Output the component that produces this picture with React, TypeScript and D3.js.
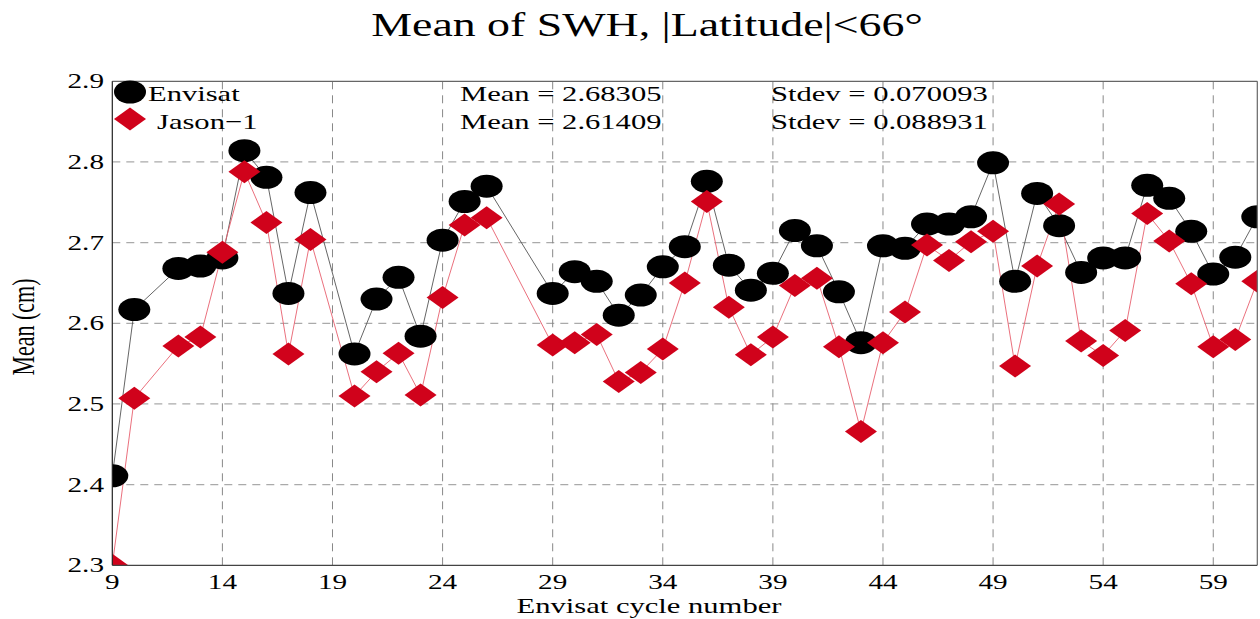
import React from "react";
import * as d3 from "d3";

const envCycles = [9,10,12,13,14,15,16,17,18,20,21,22,23,24,25,26,29,30,31,32,33,34,35,36,37,38,39,40,41,42,43,44,45,46,47,48,49,50,51,52,53,54,55,56,57,58,59,60,61];
const envisat = [2.411,2.617,2.668,2.671,2.681,2.814,2.781,2.637,2.762,2.562,2.630,2.657,2.584,2.703,2.751,2.770,2.637,2.664,2.652,2.610,2.635,2.670,2.695,2.776,2.672,2.641,2.662,2.715,2.696,2.639,2.576,2.696,2.693,2.723,2.723,2.732,2.799,2.652,2.761,2.721,2.663,2.681,2.681,2.771,2.755,2.714,2.661,2.682,2.732];
const jason = [2.300,2.507,2.572,2.583,2.688,2.788,2.725,2.562,2.704,2.510,2.540,2.563,2.511,2.632,2.722,2.731,2.573,2.576,2.586,2.528,2.539,2.568,2.650,2.751,2.620,2.561,2.583,2.647,2.656,2.571,2.466,2.576,2.614,2.697,2.678,2.701,2.714,2.547,2.671,2.748,2.578,2.560,2.591,2.736,2.702,2.649,2.571,2.580,2.652];
const xTicks = [9,14,19,24,29,34,39,44,49,54,59];
const yTicks = [2.3,2.4,2.5,2.6,2.7,2.8,2.9];
const statsText = [
  ["Mean = 2.68305", "Stdev = 0.070093"],
  ["Mean = 2.61409", "Stdev = 0.088931"],
];

const W = 1260, H = 619;
const L = 112.3, R = 1257.3, T = 81.3, B = 565.3;
const FONT = "Liberation Serif, DejaVu Serif, Times New Roman, serif";
const SX = 1.39;

function T2({ x, y, size, anchor = "start", sx = SX, children }: any) {
  // horizontally stretched serif text like the reference
  return (
    <text transform={`translate(${x},${y}) scale(${sx},1)`} textAnchor={anchor}
      style={{ fontFamily: FONT, fontSize: size }} fill="#000">{children}</text>
  );
}

export default function App() {
  const x = d3.scaleLinear().domain([9, 61]).range([L, R]);
  const y = d3.scaleLinear().domain([2.3, 2.9]).range([B, T]);
  const line = d3.line<[number, number]>().x(d => x(d[0])).y(d => y(d[1]));
  const envPts: [number, number][] = envCycles.map((c, i) => [c, envisat[i]]);
  const jasPts: [number, number][] = envCycles.map((c, i) => [c, jason[i]]);
  const diamond = (cx: number, cy: number) => `M${cx - 16},${cy}L${cx},${cy - 11.5}L${cx + 16},${cy}L${cx},${cy + 11.5}Z`;
  const red = "#d0021b";

  return (
    <svg width={W} height={H} style={{ position: "absolute", left: 0, top: 0, background: "#fff" }}>
      <defs>
        <clipPath id="plot"><rect x={L} y={T} width={R - L} height={B - T} /></clipPath>
      </defs>
      <rect x={0} y={0} width={W} height={H} fill="#fff" />
      <T2 x={647} y={36} size={33} anchor="middle">Mean of SWH, |Latitude|&lt;66°</T2>
      {/* grid */}
      {yTicks.slice(1, -1).map(t => (
        <line key={"gy" + t} x1={L} x2={R} y1={y(t)} y2={y(t)} stroke="#aaa" strokeWidth={1.3} strokeDasharray="8,6" />
      ))}
      {xTicks.slice(1).map(t => (
        <line key={"gx" + t} x1={x(t)} x2={x(t)} y1={T} y2={B} stroke="#888" strokeWidth={1} strokeDasharray="8,6" />
      ))}
      <g clipPath="url(#plot)">
        <path d={line(envPts) || ""} fill="none" stroke="#555" strokeWidth={0.9} />
        <path d={line(jasPts) || ""} fill="none" stroke="#e8606e" strokeWidth={0.9} />
        {envPts.map((p, i) => (
          <ellipse key={"e" + i} cx={x(p[0])} cy={y(p[1])} rx={16} ry={11.5} fill="#000" />
        ))}
        {jasPts.map((p, i) => (
          <path key={"j" + i} d={diamond(x(p[0]), y(p[1]))} fill={red} />
        ))}
      </g>
      {/* frame */}
      <line x1={L} x2={R} y1={T} y2={T} stroke="#666" strokeWidth={1.2} />
      <line x1={R} x2={R} y1={T} y2={B} stroke="#666" strokeWidth={1.2} />
      <line x1={L} x2={R} y1={B} y2={B} stroke="#444" strokeWidth={1.2} />
      <line x1={L} x2={L} y1={T} y2={B} stroke="#222" strokeWidth={1.2} />
      {/* ticks */}
      {yTicks.map(t => (
        <T2 key={"ty" + t} x={104} y={y(t) + 7} size={21} anchor="end">{t.toFixed(1)}</T2>
      ))}
      {xTicks.map(t => (
        <T2 key={"tx" + t} x={x(t)} y={589} size={21} anchor="middle">{t}</T2>
      ))}
      <T2 x={649} y={613} size={22} anchor="middle">Envisat cycle number</T2>
      <text transform={`translate(34,327) rotate(-90) scale(1,1.39)`} textAnchor="middle"
        style={{ fontFamily: FONT, fontSize: 22 }}>Mean (cm)</text>
      {/* legend */}
      <ellipse cx={130} cy={92} rx={16} ry={11.5} fill="#000" />
      <T2 x={148} y={101} size={22}>Envisat</T2>
      <path d={diamond(130, 119)} fill={red} />
      <T2 x={157} y={129} size={22}>Jason−1</T2>
      {statsText.map((row, i) => (
        <g key={"s" + i}>
          <T2 x={460} y={101 + i * 28} size={22}>{row[0]}</T2>
          <T2 x={771} y={101 + i * 28} size={22}>{row[1]}</T2>
        </g>
      ))}
    </svg>
  );
}
